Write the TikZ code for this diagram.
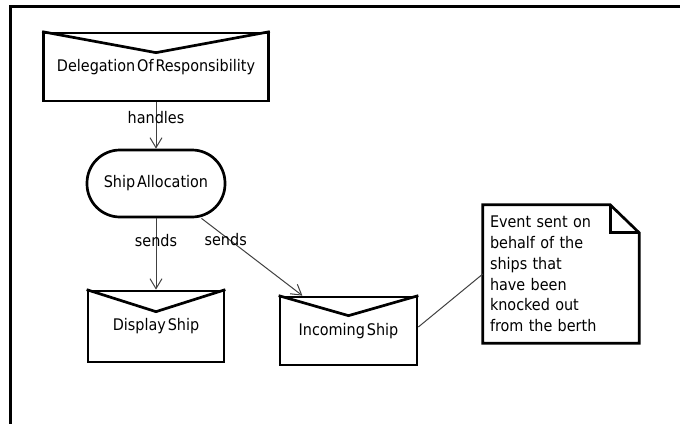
\documentclass[tikz,border=0pt]{standalone}
\usepackage{fontspec}
\setmainfont{DejaVu Sans Condensed}
\usetikzlibrary{arrows.meta}
% labels inside the shapes are set with narrow word gaps
\newcommand\shapefont{\fontsize{16}{19}\selectfont\spaceskip=0.12em plus 0.04em\relax}
\newcommand\edgefont{\fontsize{16}{19}\selectfont}
\newcommand\notefont{\fontsize{16}{20.7}\selectfont}
\begin{document}
\begin{tikzpicture}[x=1pt,y=-1pt,
  framerule/.style={line width=3pt, line cap=rect},
  shapeline/.style={draw=black, line width=2.7pt, fill=white, inner sep=0pt, font=\shapefont},
  message/.style={shapeline, rectangle},
  action/.style={shapeline, rectangle, rounded corners=33pt},
  vmark/.style={line width=2.7pt, line join=miter},
  flow/.style={draw=black!75, line width=1pt, -{Straight Barb[length=10pt,width=12pt,line width=1pt]}},
  flowlabel/.style={font=\edgefont, inner sep=1pt, text=black},
  noteline/.style={line width=2.7pt, line join=miter},
  anchorline/.style={draw=black!75, line width=1pt}]
\useasboundingbox (0,0) rectangle (680,423);

% outer frame (top and left edges)
\draw[framerule] (10.5,423) -- (10.5,6.5) -- (680,6.5);

% nodes
\node[message, minimum width=225pt, minimum height=68pt] (dor) at (156,67) {Delegation Of Responsibility};
\node[action, minimum width=138pt, minimum height=67pt] (alloc) at (156,183.5) {Ship Allocation};
\node[message, minimum width=136pt, minimum height=71pt] (display) at (156,326.5) {Display Ship};
\node[message, minimum width=137pt, minimum height=68pt] (incoming) at (348.5,331) {Incoming Ship};
\node[font=\notefont, align=left, text width=142pt, inner xsep=7pt, inner ysep=0pt,
      minimum height=138pt] (note) at (561,274)
  {Event sent on\\behalf of the\\ships that\\have been\\knocked out\\from the berth};

% envelope flaps on the message boxes
\draw[vmark] (dor.north west) -- ([yshift=-21pt]dor.north) -- (dor.north east);
\draw[vmark] (display.north west) -- ([yshift=-22pt]display.north) -- (display.north east);
\draw[vmark] (incoming.north west) -- ([yshift=-20pt]incoming.north) -- (incoming.north east);

% note outline with folded corner
\draw[noteline] (note.north west) -- ([xshift=-29pt]note.north east)
  -- ([yshift=-28pt]note.north east) -- (note.south east) -- (note.south west) -- cycle;
\draw[noteline] ([xshift=-29pt]note.north east) -- ([xshift=-29pt,yshift=-28pt]note.north east)
  -- ([yshift=-28pt]note.north east);

% connectors
\draw[flow] (dor) -- node[flowlabel, pos=0.33] {handles} (alloc);
\draw[flow] (alloc) -- node[flowlabel, pos=0.31] {sends} (display);
\draw[flow] (alloc) -- node[flowlabel, pos=0.24, yshift=-3pt] {sends} (incoming);
\draw[anchorline] ([yshift=4pt]incoming.east) -- (note.west);
\end{tikzpicture}
\end{document}
